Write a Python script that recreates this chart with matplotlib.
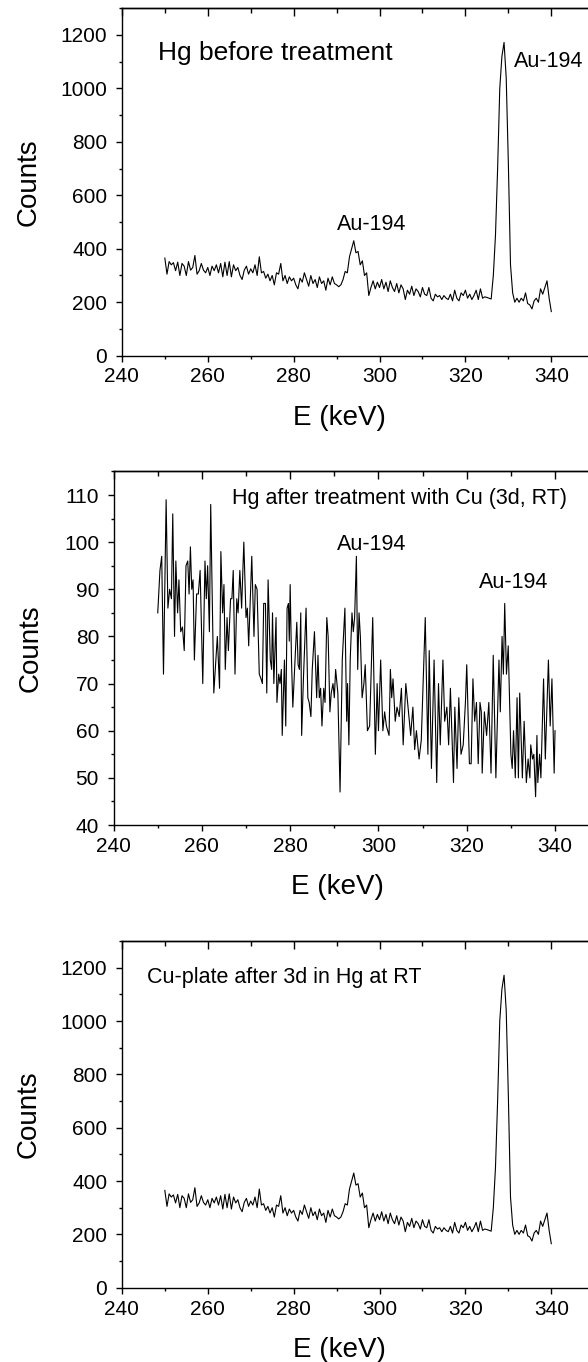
import numpy as np
import matplotlib
matplotlib.use("Agg")
import matplotlib.pyplot as plt
from matplotlib.ticker import MultipleLocator

plt.rcParams["font.family"] = ["Liberation Sans", "DejaVu Sans"]

# ── data ──────────────────────────────────────────────────────────────────────
# Hg before treatment (same spectrum shown for the Cu plate), 0.5 keV channels
e_start, e_step = 250.0, 0.5
counts_hg = [
    365, 305, 352, 340, 348, 318, 350, 300, 345, 335,
    300, 352, 320, 330, 375, 305, 318, 345, 320, 310,
    330, 300, 335, 318, 340, 310, 345, 295, 350, 300,
    352, 295, 340, 318, 330, 300, 285, 320, 335, 305,
    325, 310, 340, 300, 370, 310, 315, 290, 305, 280,
    300, 265, 310, 305, 345, 280, 300, 270, 295, 280,
    290, 265, 250, 290, 275, 310, 285, 260, 300, 270,
    285, 255, 295, 270, 280, 245, 290, 265, 295, 270,
    265, 258, 265, 285, 315, 310, 370, 400, 430, 385,
    390, 340, 355, 300, 310, 225, 255, 280, 250, 275,
    255, 285, 250, 275, 240, 280, 255, 240, 270, 235,
    265, 250, 210, 245, 230, 260, 225, 250, 240, 220,
    255, 230, 225, 255, 215, 205, 230, 220, 225, 210,
    225, 215, 210, 230, 205, 245, 215, 205, 235, 225,
    245, 215, 230, 210, 225, 245, 210, 250, 215, 220,
    218, 215, 212, 300, 450, 700, 1000, 1120, 1172, 1040,
    720, 340, 235, 200, 215, 200, 215, 205, 235, 195,
    190, 175, 205, 215, 200, 250, 230, 255, 280, 215,
    165,
]
counts_cu = counts_hg

# Hg after treatment with Cu
e_treated = [
    250.0, 250.5, 250.9, 251.3, 251.9, 252.3, 252.7, 253.1, 253.4, 253.8,
    254.1, 254.5, 254.8, 255.2, 255.6, 256.0, 256.4, 256.8, 257.1, 257.4,
    257.7, 258.0, 258.3, 258.8, 259.2, 259.6, 260.2, 260.7, 261.0, 261.3,
    261.7, 262.0, 262.7, 263.5, 264.0, 264.3, 264.7, 265.0, 265.3, 265.7,
    266.0, 266.5, 266.8, 267.1, 267.5, 267.9, 268.2, 268.6, 269.0, 269.5,
    270.0, 270.3, 270.6, 271.3, 271.8, 272.1, 272.5, 273.0, 273.4, 273.7,
    274.0, 274.4, 274.7, 275.0, 275.5, 275.8, 276.0, 276.3, 276.8, 277.0,
    277.4, 277.7, 278.0, 278.2, 278.7, 279.0, 279.3, 279.6, 279.8, 280.0,
    280.3, 280.6, 281.5, 281.8, 282.1, 282.4, 282.6, 283.0, 283.6, 284.0,
    284.3, 284.7, 285.0, 285.5, 286.0, 286.3, 286.6, 286.9, 287.2, 287.6,
    287.9, 288.3, 288.6, 289.0, 289.3, 289.7, 290.0, 290.3, 290.8, 291.3,
    291.8, 292.4, 292.8, 293.0, 293.3, 293.6, 294.0, 294.3, 294.6, 295.0,
    295.3, 295.6, 295.9, 296.3, 296.7, 297.0, 297.5, 298.0, 298.7, 299.3,
    299.7, 300.0, 300.5, 301.0, 301.4, 301.8, 302.4, 302.7, 303.0, 303.3,
    303.8, 304.2, 304.7, 305.2, 305.6, 306.2, 306.7, 307.3, 307.8, 308.2,
    308.6, 309.2, 309.7, 310.6, 311.2, 311.5, 312.0, 312.6, 313.2, 313.6,
    314.0, 314.6, 315.0, 315.5, 315.9, 316.3, 317.0, 317.3, 317.8, 318.2,
    318.7, 319.2, 319.7, 320.0, 320.6, 321.0, 321.4, 321.8, 322.2, 322.6,
    323.0, 323.3, 323.5, 324.0, 324.5, 325.0, 325.5, 326.0, 326.6, 327.3,
    327.6, 328.0, 328.3, 328.6, 329.0, 329.4, 330.0, 330.3, 330.6, 331.0,
    331.4, 331.7, 332.0, 332.6, 333.0, 333.5, 333.9, 334.3, 334.5, 334.9,
    335.2, 335.6, 335.9, 336.1, 336.5, 336.8, 337.4, 337.8, 338.5, 338.9,
    339.3, 339.8, 340.0,
]
counts_treated = [
    85, 94, 97, 72, 109, 86, 90, 88, 106, 80,
    96, 85, 92, 81, 82, 77, 95, 96, 89, 99,
    90, 92, 75, 89, 89, 94, 70, 96, 88, 95,
    81, 108, 68, 80, 69, 98, 85, 91, 73, 84,
    77, 88, 88, 94, 72, 88, 85, 94, 86, 100,
    84, 86, 78, 97, 80, 91, 90, 72, 71, 70,
    87, 87, 68, 92, 75, 73, 85, 70, 84, 66,
    72, 70, 73, 59, 75, 61, 86, 87, 79, 91,
    75, 65, 83, 74, 73, 85, 59, 71, 86, 67,
    66, 63, 73, 81, 67, 76, 67, 69, 61, 69,
    66, 84, 80, 64, 68, 70, 67, 73, 68, 47,
    75, 86, 62, 70, 57, 75, 85, 81, 84, 97,
    73, 85, 80, 67, 70, 74, 60, 61, 84, 55,
    70, 60, 75, 60, 64, 61, 59, 73, 67, 71,
    62, 65, 63, 69, 57, 70, 65, 59, 65, 56,
    60, 54, 58, 84, 55, 77, 52, 75, 49, 70,
    57, 75, 62, 65, 57, 69, 49, 65, 52, 67,
    55, 57, 66, 74, 53, 53, 71, 62, 66, 53,
    66, 64, 51, 64, 59, 66, 51, 76, 50, 75,
    64, 80, 72, 87, 72, 78, 55, 52, 60, 50,
    67, 50, 68, 50, 62, 49, 54, 50, 57, 54,
    55, 46, 59, 49, 55, 50, 71, 54, 75, 61,
    71, 51, 60,
]

x_label = "E (keV)"
y_label = "Counts"


def energies(counts):
    """Channel energies from the calibration (start + step per channel)."""
    return e_start + e_step * np.arange(len(counts))


def style_axes(ax, ylim, y_major, y_minor, ylab_x):
    ax.set_xlim(240, 350)
    ax.set_ylim(*ylim)
    ax.xaxis.set_major_locator(MultipleLocator(20))
    ax.xaxis.set_minor_locator(MultipleLocator(10))
    ax.yaxis.set_major_locator(MultipleLocator(y_major))
    ax.yaxis.set_minor_locator(MultipleLocator(y_minor))
    ax.tick_params(which="major", direction="out", length=4.5, width=1.0,
                   labelsize=15, top=False, right=False)
    ax.tick_params(which="minor", direction="out", length=2.5, width=1.0,
                   top=False, right=False)
    ax.tick_params(axis="x", pad=4)
    ax.tick_params(axis="y", pad=6)
    for s in ("left", "bottom", "top"):
        ax.spines[s].set_linewidth(1.0)
    ax.spines["right"].set_visible(False)

    # ticks on the top spine point inward
    sec = ax.secondary_xaxis("top")
    sec.xaxis.set_major_locator(MultipleLocator(20))
    sec.xaxis.set_minor_locator(MultipleLocator(10))
    sec.tick_params(which="major", direction="in", length=5.5, width=1.0,
                    labeltop=False)
    sec.tick_params(which="minor", direction="in", length=3.5, width=1.0)
    sec.spines["top"].set_linewidth(1.0)

    ax.set_xlabel(x_label, fontsize=20, va="center")
    ax.set_ylabel(y_label, fontsize=20)
    h_px = ax.get_position().height * 1362
    ax.xaxis.set_label_coords(0.46, -62 / h_px)
    ax.yaxis.set_label_coords(ylab_x, 0.5)


fig = plt.figure(figsize=(5.88, 13.62), dpi=100)
fig.patch.set_facecolor("white")

# ── panel 1: Hg before treatment ─────────────────────────────────────────────
ax1 = fig.add_axes([0.2073, 0.73886, 0.8033, 0.2551])
ax1.plot(energies(counts_hg), counts_hg, color="black", lw=0.8)
style_axes(ax1, (0, 1300), 200, 100, -0.17)
ax1.text(248.5, 1106, "Hg before treatment", fontsize=19, va="baseline")
ax1.text(290.2, 470, "Au-194", fontsize=15.5, va="baseline")
ax1.text(331.3, 1081, "Au-194", fontsize=15.5, va="baseline")

# ── panel 2: Hg after treatment with Cu ──────────────────────────────────────
ax2 = fig.add_axes([0.1932, 0.39427, 0.8258, 0.2596])
ax2.plot(e_treated, counts_treated, color="black", lw=0.8)
style_axes(ax2, (40, 115), 10, 5, -0.145)
ax2.text(266.9, 108.0, "Hg after treatment with Cu (3d, RT)",
         fontsize=15.5, va="baseline")
ax2.text(290.7, 98.3, "Au-194", fontsize=15.5, va="baseline")
ax2.text(322.8, 90.35, "Au-194", fontsize=15.5, va="baseline")

# ── panel 3: Cu plate ────────────────────────────────────────────────────────
ax3 = fig.add_axes([0.2073, 0.05455, 0.8033, 0.2545])
ax3.plot(energies(counts_cu), counts_cu, color="black", lw=0.8)
style_axes(ax3, (0, 1300), 200, 100, -0.17)
ax3.text(245.9, 1144, "Cu-plate after 3d in Hg at RT", fontsize=15.5,
         va="baseline")

fig.savefig("out.png", dpi=100)
